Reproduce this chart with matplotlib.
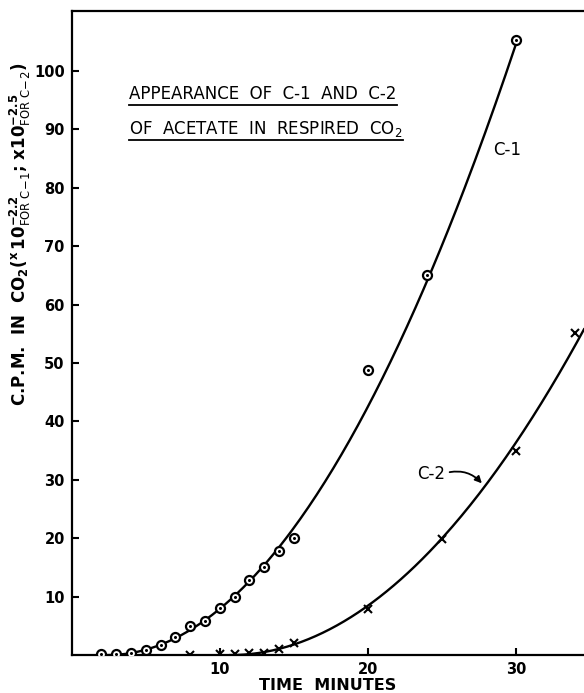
import numpy as np
import matplotlib.pyplot as plt

# C-1 (circles)
c1_minutes = [2, 3, 4, 5, 6, 7, 8, 9, 10, 11, 12, 13, 14, 15, 20, 24, 30]
c1_cpm = [0.2, 0.2, 0.4, 0.8, 1.7, 3.1, 5.0, 5.9, 8.1, 10.0, 12.9, 15.0, 17.9, 20.1, 48.8, 65.0, 105.3]
c1_off_curve = [20]   # point the hand-drawn curve ignores

# C-2 (crosses)
c2_minutes = [8, 10, 11, 12, 13, 14, 15, 20, 25, 30, 34]
c2_cpm = [0.0, 0.2, 0.2, 0.3, 0.4, 1.0, 2.0, 7.9, 19.8, 34.9, 55.1]

x_ticks = [10, 20, 30]
y_ticks = [10, 20, 30, 40, 50, 60, 70, 80, 90, 100]

title_lines = ["APPEARANCE  OF  C-1  AND  C-2", "OF  ACETATE  IN  RESPIRED  CO$_2$"]


def smooth_curve(t, v, t_to):
    # straight line through sqrt(cpm), squared back -> smooth rising curve
    a, b = np.polyfit(t, np.sqrt(v), 1)
    tt = np.linspace(-b / a, t_to, 200)
    return tt, (a * tt + b) ** 2


fig = plt.figure(figsize=(5.84, 6.93), dpi=100)
ax = fig.add_axes([0.1228, 0.0547, 0.8772, 0.9299])

# curves
t1 = np.array(c1_minutes, dtype=float)
v1 = np.array(c1_cpm)
keep = ~np.isin(t1, c1_off_curve) & (t1 >= 4)
ct, cv = smooth_curve(t1[keep], v1[keep], 30.0)
ax.plot(ct, cv, color="black", lw=1.7, zorder=2)

t2 = np.array(c2_minutes, dtype=float)
v2 = np.array(c2_cpm)
keep2 = t2 >= 12
ct2, cv2 = smooth_curve(t2[keep2], v2[keep2], 34.6)
ax.plot(ct2, cv2, color="black", lw=1.7, zorder=2)

# markers
ax.plot(c1_minutes, c1_cpm, ls="none", marker="o", ms=6.5, mfc="white",
        mec="black", mew=1.6, zorder=3)
ax.plot(c1_minutes, c1_cpm, ls="none", marker="o", ms=1.2, color="black", zorder=4)
ax.plot(c2_minutes, c2_cpm, ls="none", marker="x", ms=6, mec="black",
        mew=1.5, zorder=3)

# curve labels
ax.text(29.4, 86.4, "C-1", fontsize=12, ha="center", va="center")
ax.annotate("C-2", xy=(27.7, 29.4), xytext=(24.3, 31.0), fontsize=12,
            ha="center", va="center",
            arrowprops=dict(arrowstyle="-|>", color="black", lw=1.3,
                            connectionstyle="arc3,rad=-0.3", relpos=(1.0, 0.55),
                            shrinkA=1, shrinkB=0, mutation_scale=10))

# underlined title inside the plot
title_y = [95.2, 89.2]
texts = []
for line, yy in zip(title_lines, title_y):
    texts.append(ax.text(3.9, yy, line, fontsize=12, ha="left", va="baseline"))

ax.set_xlim(0, 34.6)
ax.set_ylim(0, 110.3)
ax.set_xticks(x_ticks)
ax.set_yticks(y_ticks)
ax.tick_params(direction="in", length=5, width=1.5, labelsize=10.5, pad=5)
for lab in ax.get_xticklabels() + ax.get_yticklabels():
    lab.set_fontweight("bold")

for s in ["left", "bottom", "top"]:
    ax.spines[s].set_linewidth(1.6)
ax.spines["right"].set_visible(False)

ax.set_xlabel("TIME  MINUTES", fontsize=11.5, fontweight="bold", labelpad=1)
ax.set_ylabel(r"C.P.M.  IN  CO$_\mathbf{2}$($^{\mathbf{x}}\,\mathbf{10}^{\mathbf{-2.2}}_{\mathrm{FOR\ C\!-\!1}}$; "
              r"$\mathbf{x10}^{\mathbf{-2.5}}_{\mathrm{FOR\ C\!-\!2}}$)",
              fontsize=12, fontweight="bold")
ax.yaxis.set_label_coords(-0.075, 0.653)

# underline each title line, a few pixels below its baseline
fig.canvas.draw()
for t, yy in zip(texts, title_y):
    bb = t.get_window_extent()
    _, ybase = ax.transData.transform((0, yy))
    inv = ax.transData.inverted()
    (x0, y0), (x1, _) = inv.transform([(bb.x0, ybase - 6), (bb.x1, ybase - 6)])
    ax.plot([x0, x1], [y0, y0], color="black", lw=1.3)

fig.savefig("out.png", dpi=100)
